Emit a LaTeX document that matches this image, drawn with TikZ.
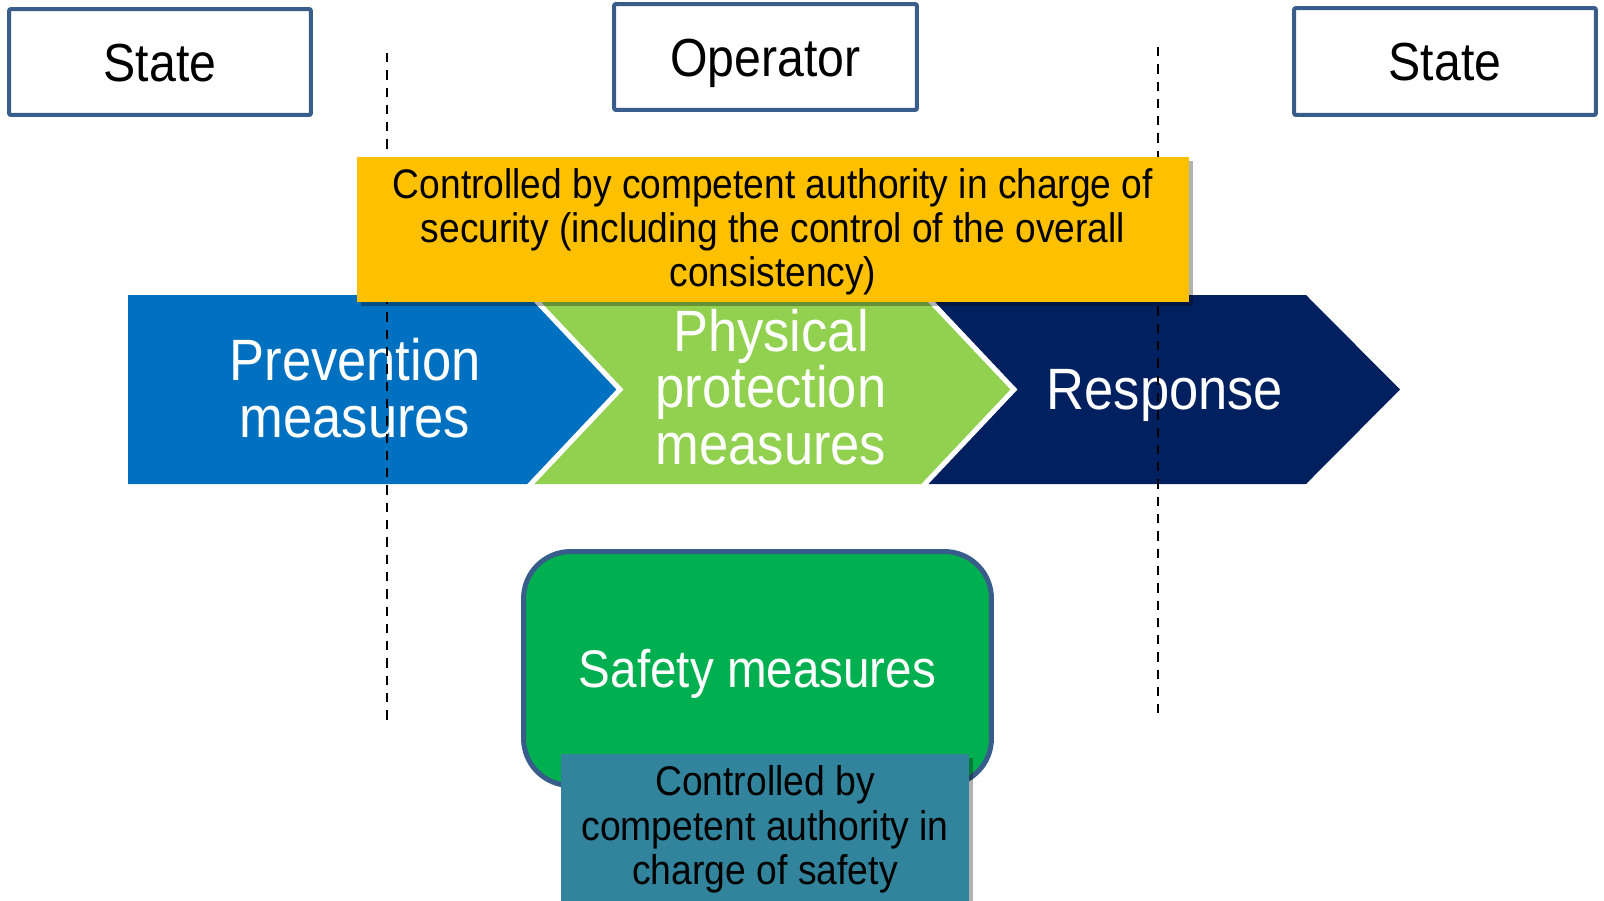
\documentclass[tikz,border=0pt]{standalone}
\usepackage{fontspec}
\setmainfont{Liberation Sans}[FakeStretch=0.9]
\usetikzlibrary{shadows}

\definecolor{frameblue}{HTML}{385D8A}
\definecolor{prevblue}{HTML}{0070C0}
\definecolor{physgreen}{HTML}{92D050}
\definecolor{respnavy}{HTML}{002060}
\definecolor{secyellow}{HTML}{FFC000}
\definecolor{safegreen}{HTML}{00B050}
\definecolor{safeteal}{HTML}{31849B}

\begin{document}
\begin{tikzpicture}[x=0.02cm, y=-0.02cm,
    party/.style={draw=frameblue, line width=0.08cm, rounded corners=0.04cm, fill=white,
        minimum width=6.04cm, minimum height=2.12cm, inner sep=0pt,
        text height=21.8pt, text depth=0pt, font=\fontsize{30.5}{32}\selectfont},
    stage/.style={text=white, align=center, inner sep=0pt, font=\fontsize{33.2}{32.3}\selectfont},
    authority/.style={align=center, inner sep=0pt, font=\fontsize{23.5}{24.8}\selectfont,
        drop shadow={shadow xshift=0.08cm, shadow yshift=-0.08cm, opacity=0.3, fill=black}},
    divider/.style={dash pattern=on 0.186cm off 0.16cm, line width=0.04cm}]

    \clip (0,0) rectangle (1604,900);

    % Chevrons
    \fill[prevblue] (128,295) -- (528,295) -- (620,389.5) -- (528,484) -- (128,484) -- cycle;
    \fill[physgreen] (528,295) -- (922,295) -- (1014,389.5) -- (922,484) -- (528,484) -- (620,389.5) -- cycle;
    \fill[respnavy] (922,295) -- (1306,295) -- (1400,389.5) -- (1306,484) -- (922,484) -- (1014,389.5) -- cycle;
    \draw[white, line width=0.1cm] (528,292) -- (620,389.5) -- (528,487);
    \draw[white, line width=0.1cm] (922,292) -- (1014,389.5) -- (922,487);

    \node[stage] at (355, 388) (prevention) {Prevention\\measures};
    \node[stage] at (771, 387) (physical) {Physical\\protection\\measures};
    \node[stage, text height=23.8pt, text depth=0pt] at (1165, 389) (response) {Response};

    % Boundaries between State and Operator
    \coordinate (leftTop) at (387, 53);
    \coordinate (leftBottom) at (387, 720);
    \coordinate (rightTop) at (1158, 47);
    \coordinate (rightBottom) at (1158, 713);
    \draw[divider] (leftTop) -- (leftBottom);
    \draw[divider] (rightTop) -- (rightBottom);

    % Who is in charge
    \node[party] at (160, 62) (stateLeft) {State};
    \node[party, minimum width=6.06cm] at (765.5, 57) (operator) {Operator};
    \node[party, minimum height=2.14cm] at (1445, 61.5) (stateRight) {State};

    % Security authority
    \node[authority, fill=secyellow, minimum width=16.64cm, minimum height=2.92cm] at (773, 229.5) (security)
        {\rule{0pt}{19.6pt}Controlled by competent authority in charge of\\security (including the control of the overall\\consistency)};

    % Safety
    \node[draw=frameblue, line width=0.1cm, fill=safegreen, rounded corners=0.94cm,
        minimum width=9.36cm, minimum height=4.68cm, text=white,
        text height=21.6pt, text depth=0pt,
        font=\fontsize{30.1}{32}\selectfont] at (757.5, 668.5) (safety) {Safety measures};
    \node[authority, fill=safeteal, minimum width=8.16cm, minimum height=2.96cm,
        font=\fontsize{23.6}{25.5}\selectfont] at (765, 828) (safetyAuth)
        {\rule{0pt}{18.6pt}Controlled by\\competent authority in\\charge of safety};
\end{tikzpicture}
\end{document}
